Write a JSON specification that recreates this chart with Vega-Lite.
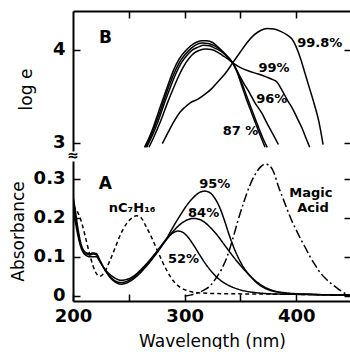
{
  "$schema": "https://vega.github.io/schema/vega-lite/v6.json",
  "padding": {"left": 9, "top": 10, "right": 0, "bottom": 0},
  "background": "white",
  "config": {
    "font": "DejaVu Sans",
    "view": {"stroke": null},
    "axis": {
      "grid": false,
      "labelFontSize": 18,
      "labelFontWeight": "bold",
      "labelColor": "black",
      "labelOverlap": false,
      "labelFlush": false,
      "labelBound": false,
      "titleFontSize": 17,
      "titleFontWeight": "normal",
      "titleColor": "black",
      "domainColor": "black",
      "domainWidth": 2,
      "tickColor": "black",
      "tickWidth": 1.5,
      "tickSize": -7
    },
    "concat": {"spacing": 10}
  },
  "datasets": {
    "logE": [
      {"series":"87%","wl":264,"value":2.95},{"series":"87%","wl":268,"value":3.05},{"series":"87%","wl":272,"value":3.17},{"series":"87%","wl":276,"value":3.31},{"series":"87%","wl":280,"value":3.45},{"series":"87%","wl":285,"value":3.62},{"series":"87%","wl":290,"value":3.78},{"series":"87%","wl":295,"value":3.90},{"series":"87%","wl":300,"value":3.98},{"series":"87%","wl":305,"value":4.04},{"series":"87%","wl":310,"value":4.08},{"series":"87%","wl":315,"value":4.10},{"series":"87%","wl":320,"value":4.10},{"series":"87%","wl":325,"value":4.08},{"series":"87%","wl":330,"value":4.03},{"series":"87%","wl":335,"value":3.97},{"series":"87%","wl":340,"value":3.91},{"series":"87%","wl":343,"value":3.86},{"series":"87%","wl":347,"value":3.76},{"series":"87%","wl":351,"value":3.62},{"series":"87%","wl":355,"value":3.48},{"series":"87%","wl":360,"value":3.32},{"series":"87%","wl":366,"value":3.13},{"series":"87%","wl":372,"value":2.95},
      {"series":"91%","wl":265,"value":2.95},{"series":"91%","wl":269,"value":3.05},{"series":"91%","wl":273,"value":3.17},{"series":"91%","wl":277,"value":3.30},{"series":"91%","wl":281,"value":3.44},{"series":"91%","wl":286,"value":3.61},{"series":"91%","wl":291,"value":3.76},{"series":"91%","wl":296,"value":3.88},{"series":"91%","wl":301,"value":3.96},{"series":"91%","wl":306,"value":4.02},{"series":"91%","wl":311,"value":4.06},{"series":"91%","wl":316,"value":4.075},{"series":"91%","wl":321,"value":4.07},{"series":"91%","wl":326,"value":4.05},{"series":"91%","wl":331,"value":4.01},{"series":"91%","wl":336,"value":3.96},{"series":"91%","wl":340,"value":3.90},{"series":"91%","wl":343,"value":3.86},{"series":"91%","wl":347,"value":3.77},{"series":"91%","wl":351,"value":3.65},{"series":"91%","wl":355,"value":3.52},{"series":"91%","wl":360,"value":3.36},{"series":"91%","wl":366,"value":3.17},{"series":"91%","wl":370,"value":3.05},{"series":"91%","wl":374,"value":2.95},
      {"series":"96%","wl":266,"value":2.95},{"series":"96%","wl":270,"value":3.05},{"series":"96%","wl":274,"value":3.16},{"series":"96%","wl":278,"value":3.29},{"series":"96%","wl":282,"value":3.43},{"series":"96%","wl":287,"value":3.59},{"series":"96%","wl":292,"value":3.74},{"series":"96%","wl":297,"value":3.86},{"series":"96%","wl":302,"value":3.94},{"series":"96%","wl":307,"value":4.00},{"series":"96%","wl":312,"value":4.03},{"series":"96%","wl":317,"value":4.05},{"series":"96%","wl":322,"value":4.045},{"series":"96%","wl":327,"value":4.02},{"series":"96%","wl":332,"value":3.99},{"series":"96%","wl":337,"value":3.94},{"series":"96%","wl":343,"value":3.86},{"series":"96%","wl":348,"value":3.75},{"series":"96%","wl":353,"value":3.64},{"series":"96%","wl":358,"value":3.54},{"series":"96%","wl":363,"value":3.43},{"series":"96%","wl":369,"value":3.32},{"series":"96%","wl":375,"value":3.18},{"series":"96%","wl":380,"value":3.07},{"series":"96%","wl":384,"value":2.98},
      {"series":"99%","wl":268,"value":2.95},{"series":"99%","wl":272,"value":3.05},{"series":"99%","wl":276,"value":3.16},{"series":"99%","wl":280,"value":3.28},{"series":"99%","wl":284,"value":3.41},{"series":"99%","wl":289,"value":3.56},{"series":"99%","wl":294,"value":3.70},{"series":"99%","wl":299,"value":3.82},{"series":"99%","wl":304,"value":3.91},{"series":"99%","wl":309,"value":3.97},{"series":"99%","wl":314,"value":4.00},{"series":"99%","wl":319,"value":4.01},{"series":"99%","wl":324,"value":4.005},{"series":"99%","wl":329,"value":3.98},{"series":"99%","wl":334,"value":3.94},{"series":"99%","wl":339,"value":3.90},{"series":"99%","wl":343,"value":3.86},{"series":"99%","wl":350,"value":3.81},{"series":"99%","wl":358,"value":3.77},{"series":"99%","wl":366,"value":3.74},{"series":"99%","wl":373,"value":3.71},{"series":"99%","wl":379,"value":3.68},{"series":"99%","wl":383,"value":3.65},{"series":"99%","wl":387,"value":3.57},{"series":"99%","wl":392,"value":3.46},{"series":"99%","wl":397,"value":3.36},{"series":"99%","wl":401,"value":3.26},{"series":"99%","wl":405,"value":3.16},{"series":"99%","wl":409,"value":3.04},{"series":"99%","wl":412,"value":2.95},
      {"series":"99.8%","wl":280,"value":2.99},{"series":"99.8%","wl":286,"value":3.13},{"series":"99.8%","wl":291,"value":3.24},{"series":"99.8%","wl":296,"value":3.33},{"series":"99.8%","wl":300,"value":3.38},{"series":"99.8%","wl":305,"value":3.43},{"series":"99.8%","wl":312,"value":3.47},{"series":"99.8%","wl":318,"value":3.52},{"series":"99.8%","wl":324,"value":3.58},{"series":"99.8%","wl":330,"value":3.66},{"series":"99.8%","wl":336,"value":3.74},{"series":"99.8%","wl":343,"value":3.86},{"series":"99.8%","wl":350,"value":3.98},{"series":"99.8%","wl":356,"value":4.08},{"series":"99.8%","wl":362,"value":4.16},{"series":"99.8%","wl":368,"value":4.21},{"series":"99.8%","wl":374,"value":4.23},{"series":"99.8%","wl":380,"value":4.225},{"series":"99.8%","wl":386,"value":4.20},{"series":"99.8%","wl":392,"value":4.16},{"series":"99.8%","wl":396,"value":4.12},{"series":"99.8%","wl":400,"value":4.03},{"series":"99.8%","wl":404,"value":3.90},{"series":"99.8%","wl":408,"value":3.74},{"series":"99.8%","wl":412,"value":3.58},{"series":"99.8%","wl":416,"value":3.42},{"series":"99.8%","wl":420,"value":3.24},{"series":"99.8%","wl":424,"value":2.98}
    ],
    "absorb": [
      {"series":"nC7H16","wl":200,"value":0.23},{"series":"nC7H16","wl":204,"value":0.215},{"series":"nC7H16","wl":208,"value":0.185},{"series":"nC7H16","wl":212,"value":0.14},{"series":"nC7H16","wl":216,"value":0.095},{"series":"nC7H16","wl":220,"value":0.062},{"series":"nC7H16","wl":224,"value":0.05},{"series":"nC7H16","wl":228,"value":0.06},{"series":"nC7H16","wl":233,"value":0.09},{"series":"nC7H16","wl":238,"value":0.125},{"series":"nC7H16","wl":243,"value":0.16},{"series":"nC7H16","wl":248,"value":0.185},{"series":"nC7H16","wl":253,"value":0.2},{"series":"nC7H16","wl":257,"value":0.205},{"series":"nC7H16","wl":261,"value":0.2},{"series":"nC7H16","wl":265,"value":0.18},{"series":"nC7H16","wl":270,"value":0.152},{"series":"nC7H16","wl":275,"value":0.12},{"series":"nC7H16","wl":280,"value":0.088},{"series":"nC7H16","wl":285,"value":0.06},{"series":"nC7H16","wl":290,"value":0.038},{"series":"nC7H16","wl":296,"value":0.022},{"series":"nC7H16","wl":303,"value":0.013},{"series":"nC7H16","wl":312,"value":0.008},{"series":"nC7H16","wl":330,"value":0.006},{"series":"nC7H16","wl":360,"value":0.005},{"series":"nC7H16","wl":400,"value":0.004},{"series":"nC7H16","wl":449,"value":0.002},
      {"series":"52%","wl":200,"value":0.215},{"series":"52%","wl":202,"value":0.19},{"series":"52%","wl":204,"value":0.16},{"series":"52%","wl":207,"value":0.125},{"series":"52%","wl":211,"value":0.105},{"series":"52%","wl":215,"value":0.1},{"series":"52%","wl":218,"value":0.1},{"series":"52%","wl":221,"value":0.1},{"series":"52%","wl":224,"value":0.088},{"series":"52%","wl":228,"value":0.07},{"series":"52%","wl":233,"value":0.055},{"series":"52%","wl":238,"value":0.045},{"series":"52%","wl":243,"value":0.04},{"series":"52%","wl":248,"value":0.042},{"series":"52%","wl":254,"value":0.05},{"series":"52%","wl":260,"value":0.065},{"series":"52%","wl":266,"value":0.083},{"series":"52%","wl":272,"value":0.103},{"series":"52%","wl":278,"value":0.125},{"series":"52%","wl":284,"value":0.146},{"series":"52%","wl":289,"value":0.16},{"series":"52%","wl":294,"value":0.166},{"series":"52%","wl":298,"value":0.163},{"series":"52%","wl":303,"value":0.15},{"series":"52%","wl":308,"value":0.13},{"series":"52%","wl":313,"value":0.107},{"series":"52%","wl":318,"value":0.085},{"series":"52%","wl":323,"value":0.066},{"series":"52%","wl":328,"value":0.05},{"series":"52%","wl":334,"value":0.036},{"series":"52%","wl":340,"value":0.026},{"series":"52%","wl":347,"value":0.018},{"series":"52%","wl":355,"value":0.012},{"series":"52%","wl":365,"value":0.008},{"series":"52%","wl":380,"value":0.005},{"series":"52%","wl":400,"value":0.004},{"series":"52%","wl":449,"value":0.002},
      {"series":"84%","wl":200,"value":0.235},{"series":"84%","wl":202,"value":0.205},{"series":"84%","wl":204,"value":0.17},{"series":"84%","wl":207,"value":0.13},{"series":"84%","wl":211,"value":0.11},{"series":"84%","wl":215,"value":0.105},{"series":"84%","wl":218,"value":0.107},{"series":"84%","wl":221,"value":0.105},{"series":"84%","wl":224,"value":0.09},{"series":"84%","wl":228,"value":0.07},{"series":"84%","wl":233,"value":0.05},{"series":"84%","wl":238,"value":0.038},{"series":"84%","wl":243,"value":0.034},{"series":"84%","wl":248,"value":0.037},{"series":"84%","wl":254,"value":0.047},{"series":"84%","wl":260,"value":0.062},{"series":"84%","wl":266,"value":0.08},{"series":"84%","wl":272,"value":0.1},{"series":"84%","wl":278,"value":0.122},{"series":"84%","wl":284,"value":0.145},{"series":"84%","wl":290,"value":0.166},{"series":"84%","wl":296,"value":0.183},{"series":"84%","wl":302,"value":0.194},{"series":"84%","wl":308,"value":0.198},{"series":"84%","wl":313,"value":0.196},{"series":"84%","wl":318,"value":0.188},{"series":"84%","wl":323,"value":0.175},{"series":"84%","wl":329,"value":0.156},{"series":"84%","wl":335,"value":0.133},{"series":"84%","wl":341,"value":0.11},{"series":"84%","wl":347,"value":0.088},{"series":"84%","wl":353,"value":0.068},{"series":"84%","wl":359,"value":0.05},{"series":"84%","wl":365,"value":0.035},{"series":"84%","wl":372,"value":0.022},{"series":"84%","wl":380,"value":0.013},{"series":"84%","wl":390,"value":0.008},{"series":"84%","wl":405,"value":0.005},{"series":"84%","wl":449,"value":0.002},
      {"series":"95%","wl":200,"value":0.255},{"series":"95%","wl":202,"value":0.22},{"series":"95%","wl":204,"value":0.18},{"series":"95%","wl":207,"value":0.135},{"series":"95%","wl":211,"value":0.112},{"series":"95%","wl":215,"value":0.108},{"series":"95%","wl":218,"value":0.11},{"series":"95%","wl":221,"value":0.108},{"series":"95%","wl":224,"value":0.092},{"series":"95%","wl":228,"value":0.07},{"series":"95%","wl":233,"value":0.048},{"series":"95%","wl":238,"value":0.035},{"series":"95%","wl":243,"value":0.03},{"series":"95%","wl":248,"value":0.033},{"series":"95%","wl":254,"value":0.043},{"series":"95%","wl":260,"value":0.058},{"series":"95%","wl":266,"value":0.077},{"series":"95%","wl":272,"value":0.098},{"series":"95%","wl":278,"value":0.122},{"series":"95%","wl":284,"value":0.148},{"series":"95%","wl":290,"value":0.178},{"series":"95%","wl":296,"value":0.206},{"series":"95%","wl":302,"value":0.232},{"series":"95%","wl":308,"value":0.252},{"series":"95%","wl":313,"value":0.264},{"series":"95%","wl":318,"value":0.268},{"series":"95%","wl":322,"value":0.265},{"series":"95%","wl":327,"value":0.25},{"series":"95%","wl":332,"value":0.222},{"series":"95%","wl":336,"value":0.19},{"series":"95%","wl":340,"value":0.155},{"series":"95%","wl":344,"value":0.124},{"series":"95%","wl":348,"value":0.098},{"series":"95%","wl":353,"value":0.072},{"series":"95%","wl":359,"value":0.05},{"series":"95%","wl":366,"value":0.03},{"series":"95%","wl":374,"value":0.017},{"series":"95%","wl":385,"value":0.009},{"series":"95%","wl":400,"value":0.005},{"series":"95%","wl":449,"value":0.002},
      {"series":"Magic Acid","wl":300,"value":0.0},{"series":"Magic Acid","wl":305,"value":0.002},{"series":"Magic Acid","wl":312,"value":0.008},{"series":"Magic Acid","wl":318,"value":0.016},{"series":"Magic Acid","wl":323,"value":0.026},{"series":"Magic Acid","wl":328,"value":0.045},{"series":"Magic Acid","wl":333,"value":0.068},{"series":"Magic Acid","wl":338,"value":0.1},{"series":"Magic Acid","wl":343,"value":0.145},{"series":"Magic Acid","wl":348,"value":0.195},{"series":"Magic Acid","wl":353,"value":0.24},{"series":"Magic Acid","wl":358,"value":0.28},{"series":"Magic Acid","wl":363,"value":0.31},{"series":"Magic Acid","wl":368,"value":0.33},{"series":"Magic Acid","wl":372,"value":0.337},{"series":"Magic Acid","wl":376,"value":0.333},{"series":"Magic Acid","wl":380,"value":0.315},{"series":"Magic Acid","wl":384,"value":0.28},{"series":"Magic Acid","wl":388,"value":0.25},{"series":"Magic Acid","wl":392,"value":0.22},{"series":"Magic Acid","wl":396,"value":0.192},{"series":"Magic Acid","wl":400,"value":0.168},{"series":"Magic Acid","wl":404,"value":0.145},{"series":"Magic Acid","wl":408,"value":0.124},{"series":"Magic Acid","wl":412,"value":0.102},{"series":"Magic Acid","wl":416,"value":0.083},{"series":"Magic Acid","wl":420,"value":0.065},{"series":"Magic Acid","wl":426,"value":0.045},{"series":"Magic Acid","wl":432,"value":0.03},{"series":"Magic Acid","wl":438,"value":0.017},{"series":"Magic Acid","wl":445,"value":0.004}
    ],
    "labelsB": [
      {"text":"99.8%","wl":421,"value":4.075},
      {"text":"99%","wl":380,"value":3.81},
      {"text":"96%","wl":378,"value":3.47},
      {"text":"87 %","wl":350,"value":3.13}
    ],
    "labelsA": [
      {"text":"nC₇H₁₆","wl":253,"value":0.226},
      {"text":"95%","wl":327,"value":0.287},
      {"text":"84%","wl":317,"value":0.213},
      {"text":"52%","wl":299,"value":0.095},
      {"text":"Magic","wl":413,"value":0.264},
      {"text":"Acid","wl":415,"value":0.226}
    ],
    "breaks": [
      {"text":"≈","wl":200,"value":0.357}
    ]
  },
  "vconcat": [
    {
      "width": 278,
      "height": 140,
      "layer": [
        {
          "data": {"name": "logE"},
          "mark": {"type": "line", "interpolate": "monotone", "strokeWidth": 1.5, "color": "black", "clip": true},
          "encoding": {
            "x": {"field": "wl", "type": "quantitative", "scale": {"domain": [200, 449], "nice": false, "zero": false},
                  "axis": {"orient": "top", "values": [250, 300, 350, 400], "labels": false, "title": null}},
            "y": {"field": "value", "type": "quantitative", "scale": {"domain": [2.91, 4.42], "nice": false, "zero": false},
                  "axis": {"orient": "left", "values": [3, 4], "format": "d", "title": "log e", "labelPadding": 15, "titlePadding": 17, "titleY": 78}},
            "detail": {"field": "series", "type": "nominal"}
          }
        },
        {
          "data": {"name": "labelsB"},
          "mark": {"type": "text", "font": "DejaVu Sans", "fontSize": 13, "fontWeight": "bold", "align": "center", "baseline": "middle", "color": "black"},
          "encoding": {
            "x": {"field": "wl", "type": "quantitative", "axis": null},
            "y": {"field": "value", "type": "quantitative", "axis": {"orient": "right", "values": [3, 4], "labels": false, "title": null}},
            "text": {"field": "text"}
          }
        },
        {
          "data": {"values": [{"text": "B", "wl": 229, "value": 4.13}]},
          "mark": {"type": "text", "font": "DejaVu Sans", "fontSize": 17, "fontWeight": "bold", "align": "center", "baseline": "middle", "color": "black"},
          "encoding": {
            "x": {"field": "wl", "type": "quantitative", "axis": null},
            "y": {"field": "value", "type": "quantitative", "axis": null},
            "text": {"field": "text"}
          }
        }
      ],
      "resolve": {"axis": {"x": "independent", "y": "independent"}}
    },
    {
      "width": 278,
      "height": 140,
      "layer": [
        {
          "data": {"name": "absorb"},
          "mark": {"type": "line", "interpolate": "monotone", "strokeWidth": 1.5, "color": "black", "clip": true},
          "encoding": {
            "x": {"field": "wl", "type": "quantitative", "scale": {"domain": [200, 449], "nice": false, "zero": false},
                  "axis": {"orient": "bottom", "values": [200, 250, 300, 350, 400], "labelExpr": "datum.value % 100 == 0 ? datum.label : ''", "title": "Wavelength (nm)", "labelPadding": 13, "titlePadding": 8}},
            "y": {"field": "value", "type": "quantitative", "scale": {"domain": [-0.013, 0.345], "nice": false, "zero": false},
                  "axis": {"orient": "left", "values": [0, 0.1, 0.2, 0.3], "labelExpr": "datum.value == 0 ? '0' : format(datum.value, '.1f')", "title": "Absorbance", "labelPadding": 15, "titlePadding": 6}},
            "detail": {"field": "series", "type": "nominal"},
            "strokeDash": {"field": "series", "type": "nominal", "legend": null,
                           "scale": {"domain": ["52%", "84%", "95%", "nC7H16", "Magic Acid"], "range": [[1, 0], [1, 0], [1, 0], [4, 3], [9, 3, 2, 3]]}}
          }
        },
        {
          "data": {"name": "labelsA"},
          "mark": {"type": "text", "font": "DejaVu Sans", "fontSize": 13, "fontWeight": "bold", "align": "center", "baseline": "middle", "color": "black"},
          "encoding": {
            "x": {"field": "wl", "type": "quantitative", "axis": null},
            "y": {"field": "value", "type": "quantitative", "axis": {"orient": "right", "values": [0, 0.1, 0.2, 0.3], "labels": false, "title": null}},
            "text": {"field": "text"}
          }
        },
        {
          "data": {"values": [{"text": "A", "wl": 229, "value": 0.287}]},
          "mark": {"type": "text", "font": "DejaVu Sans", "fontSize": 17, "fontWeight": "bold", "align": "center", "baseline": "middle", "color": "black"},
          "encoding": {
            "x": {"field": "wl", "type": "quantitative", "axis": null},
            "y": {"field": "value", "type": "quantitative", "axis": null},
            "text": {"field": "text"}
          }
        },
        {
          "data": {"name": "breaks"},
          "mark": {"type": "text", "font": "DejaVu Sans", "fontSize": 14, "fontWeight": "bold", "align": "center", "baseline": "middle", "color": "black"},
          "encoding": {
            "x": {"field": "wl", "type": "quantitative", "axis": null},
            "y": {"field": "value", "type": "quantitative", "axis": null},
            "text": {"field": "text"}
          }
        }
      ],
      "resolve": {"axis": {"x": "independent", "y": "independent"}}
    }
  ],
  "bounds": "flush"
}
